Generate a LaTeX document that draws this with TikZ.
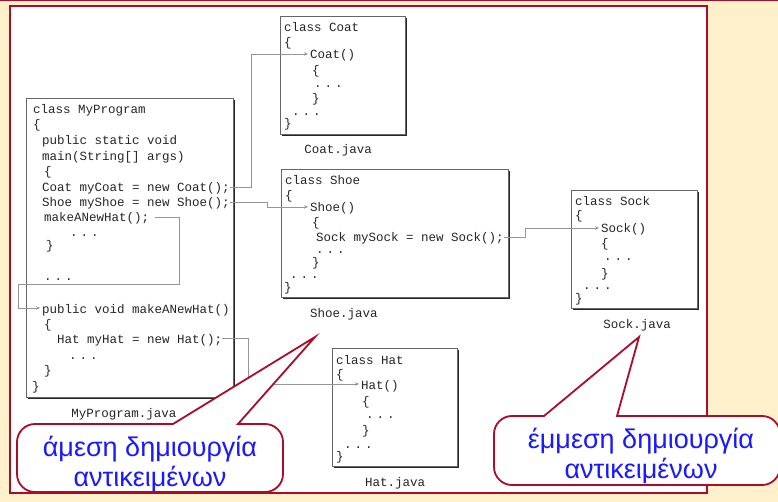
\documentclass[tikz,border=0pt]{standalone}
\usepackage{fontspec}
\usetikzlibrary{arrows.meta, positioning, calc, shadows}
\newfontfamily\codefont{Liberation Mono}
\newfontfamily\notefont{Liberation Sans}
\definecolor{slidebg}{RGB}{255,240,204}
\definecolor{framered}{RGB}{170,12,42}
\definecolor{linkgray}{RGB}{150,150,150}
\definecolor{noteblue}{RGB}{25,25,255}
\newcommand{\codedots}{.\hspace{3pt}.\hspace{3pt}.}

\begin{document}
\begin{tikzpicture}[
        x=1pt, y=-1pt,
        classbox/.style={draw=black!60, line width=0.8pt, fill=white, anchor=north west, inner sep=0pt,
            drop shadow={shadow xshift=1.6pt, shadow yshift=-1.6pt, fill=black!85, opacity=1}},
        code/.style={font=\codefont\fontsize{12.5}{15}\selectfont, text=black!85, inner sep=0pt,
            text height=10.5pt, text depth=0.5pt, anchor=west},
        fname/.style={code, anchor=center},
        link/.style={linkgray, line width=0.9pt, shorten >=2pt, -{Stealth[length=4pt, width=3.5pt]}},
        callout/.style={draw=framered, line width=1.8pt, fill=white},
        note/.style={font=\notefont\fontsize{27}{30}\selectfont, text=noteblue, align=center}
    ]
        \useasboundingbox (0,0) rectangle (778,502);
        \fill[slidebg] (0,0) rectangle (778,502);
        \clip (0,0) rectangle (778,502);
        \draw[framered, line width=1.2pt] (0,0.6) -- (778,0.6);
        \draw[framered, line width=2.5pt, fill=white] (10,6) rectangle (707,493);

        % the five source files
        \node[classbox, minimum width=207pt, minimum height=299pt] (myprog) at (26,98) {};
        \node[classbox, minimum width=125pt, minimum height=118pt] (coat) at (280,16) {};
        \node[classbox, minimum width=227pt, minimum height=128pt] (shoe) at (281,169) {};
        \node[classbox, minimum width=126pt, minimum height=118pt] (sock) at (571,190) {};
        \node[classbox, minimum width=125pt, minimum height=118pt] (hat) at (332,348) {};

        \foreach \px/\py/\txt [count=\i] in {33/109/class MyProgram, 33/124/\{,
                42/140/public static void, 42/156/main(String[] args), 44/171/\{,
                42/187/Coat myCoat = new Coat();, 42/202/Shoe myShoe = new Shoe();,
                44/217/makeANewHat();, 70/232/\codedots, 46/245/\}, 44/275/\codedots,
                42/308/public void makeANewHat(), 44/323/\{, 57/338/Hat myHat = new Hat();,
                69/354/\codedots, 44/369/\}, 32/385/\}}
            \node[code] (mp-\i) at (\px,\py) {\txt};

        \foreach \px/\py/\txt [count=\i] in {284/27/class Coat, 284/42/\{, 310/54/Coat(),
                312/70/\{, 314/83/\codedots, 312/98/\}, 292/111/\codedots, 284/123/\}}
            \node[code] (coat-\i) at (\px,\py) {\txt};

        \foreach \px/\py/\txt [count=\i] in {285/180/class Shoe, 285/195/\{, 310/207/Shoe(),
                312/222/\{, 316/237/Sock mySock = new Sock();, 316/249/\codedots,
                312/262/\}, 290/274/\codedots, 284/286/\}}
            \node[code] (shoe-\i) at (\px,\py) {\txt};

        \foreach \px/\py/\txt [count=\i] in {575/201/class Sock, 575/215/\{, 601/228/Sock(),
                601/243/\{, 604/256/\codedots, 601/272/\}, 583/285/\codedots, 575/297/\}}
            \node[code] (sock-\i) at (\px,\py) {\txt};

        \foreach \px/\py/\txt [count=\i] in {336/359/class Hat, 336/373/\{, 361/384/Hat(),
                362/400/\{, 366/413/\codedots, 362/429/\}, 344/443/\codedots, 336/455/\}}
            \node[code] (hat-\i) at (\px,\py) {\txt};

        \node[fname] (mpfile) at (124,412) {MyProgram.java};
        \node[fname] (coatfile) at (338,149) {Coat.java};
        \node[fname] (shoefile) at (344,312) {Shoe.java};
        \node[fname] (sockfile) at (637,323) {Sock.java};
        \node[fname] (hatfile) at (395,481) {Hat.java};

        % calls
        \draw[link] (mp-6.east) -- ([xshift=22pt]mp-6.east) |- (coat-3.west);
        \draw[link] (mp-7.east) -- ([xshift=38pt]mp-7.east) |- (shoe-3.west);
        \coordinate (hatjog) at (179,284);
        \draw[link] ([xshift=6pt]mp-8.east) -| (hatjog) -- (18,284) |- (mp-12.west);
        \draw[link] (mp-14.east) -- ([xshift=26pt]mp-14.east) |- (hat-3.west);
        \draw[link] (shoe-5.east) -- ([xshift=22pt]shoe-5.east) |- (sock-3.west);

        % speech bubbles
        \draw[callout] (238,424) [rounded corners=18pt] -- (283,424) -- (283,492) -- (17,492)
            -- (17,424) [sharp corners] -- (173,424) -- (315,337) -- cycle;
        \draw[callout] (617,416) [rounded corners=18pt] -- (780,416) -- (780,485) -- (494,485)
            -- (494,416) [sharp corners] -- (544,416) -- (639,337) -- cycle;
        \node[note] (direct) at (150,464) {άμεση δημιουργία\\αντικειμένων};
        \node[note] (indirect) at (641,456) {έμμεση δημιουργία\\αντικειμένων};
    \end{tikzpicture}
\end{document}
